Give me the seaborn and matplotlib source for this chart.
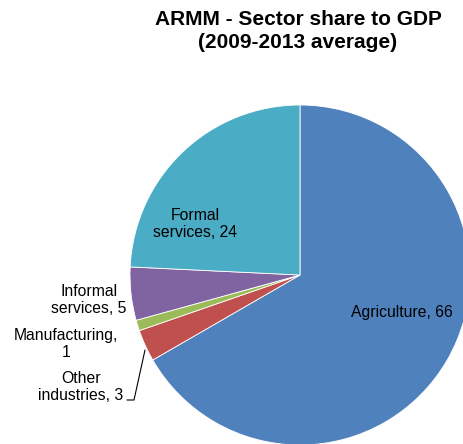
import matplotlib
matplotlib.use("Agg")
import matplotlib.pyplot as plt
import seaborn as sns

sns.set_theme(style="white")
plt.rcParams['font.family'] = ['Liberation Sans', 'DejaVu Sans']

sectors = ["Agriculture", "Other industries", "Manufacturing", "Informal services", "Formal services"]
shares = [66, 3, 1, 5, 24]
colors = sns.color_palette(["#4F81BD", "#C0504D", "#9BBB59", "#8064A2", "#4BACC6"])

W, H = 463, 444
fig = plt.figure(figsize=(W / 100, H / 100), dpi=100)
cx, cy, r = 300, 275, 170
ax = fig.add_axes([(cx - r) / W, (H - cy - r) / H, 2 * r / W, 2 * r / H])
ax.pie(shares, colors=colors, startangle=90, counterclock=False, radius=1,
       wedgeprops=dict(edgecolor="white", linewidth=0.6))
ax.set_xlim(-1, 1)
ax.set_ylim(-1, 1)
ax.set_aspect("equal")
ax.axis("off")

def d(px, py):
    return (px - cx) / r, (cy - py) / r

fs = 11.3
lab = dict(fontsize=fs, color="black", ha="center", va="center", linespacing=1.12, clip_on=False)
ax.text(*d(402, 313), f"{sectors[0]}, {shares[0]}", **lab)
ax.text(*d(195, 224), f"Formal\nservices, {shares[4]}", **lab)
ax.text(*d(89, 300), f"Informal\nservices, {shares[3]}", **lab)
ax.text(*d(66, 344), f"{sectors[2]},\n{shares[2]}", **lab)
ax.text(*d(81, 387), f"Other\nindustries, {shares[1]}", **lab)

p1, p2, p3 = d(127, 400), d(134, 400), d(145, 350)
ax.plot([p1[0], p2[0], p3[0]], [p1[1], p2[1], p3[1]], color="black", lw=0.8, clip_on=False)

fig.text(298 / W, 1 - 31 / H, "ARMM - Sector share to GDP\n(2009-2013 average)",
         ha="center", va="center", fontsize=15, fontweight="bold", linespacing=1.25,
         color="black")

fig.savefig("out.png", dpi=100)
